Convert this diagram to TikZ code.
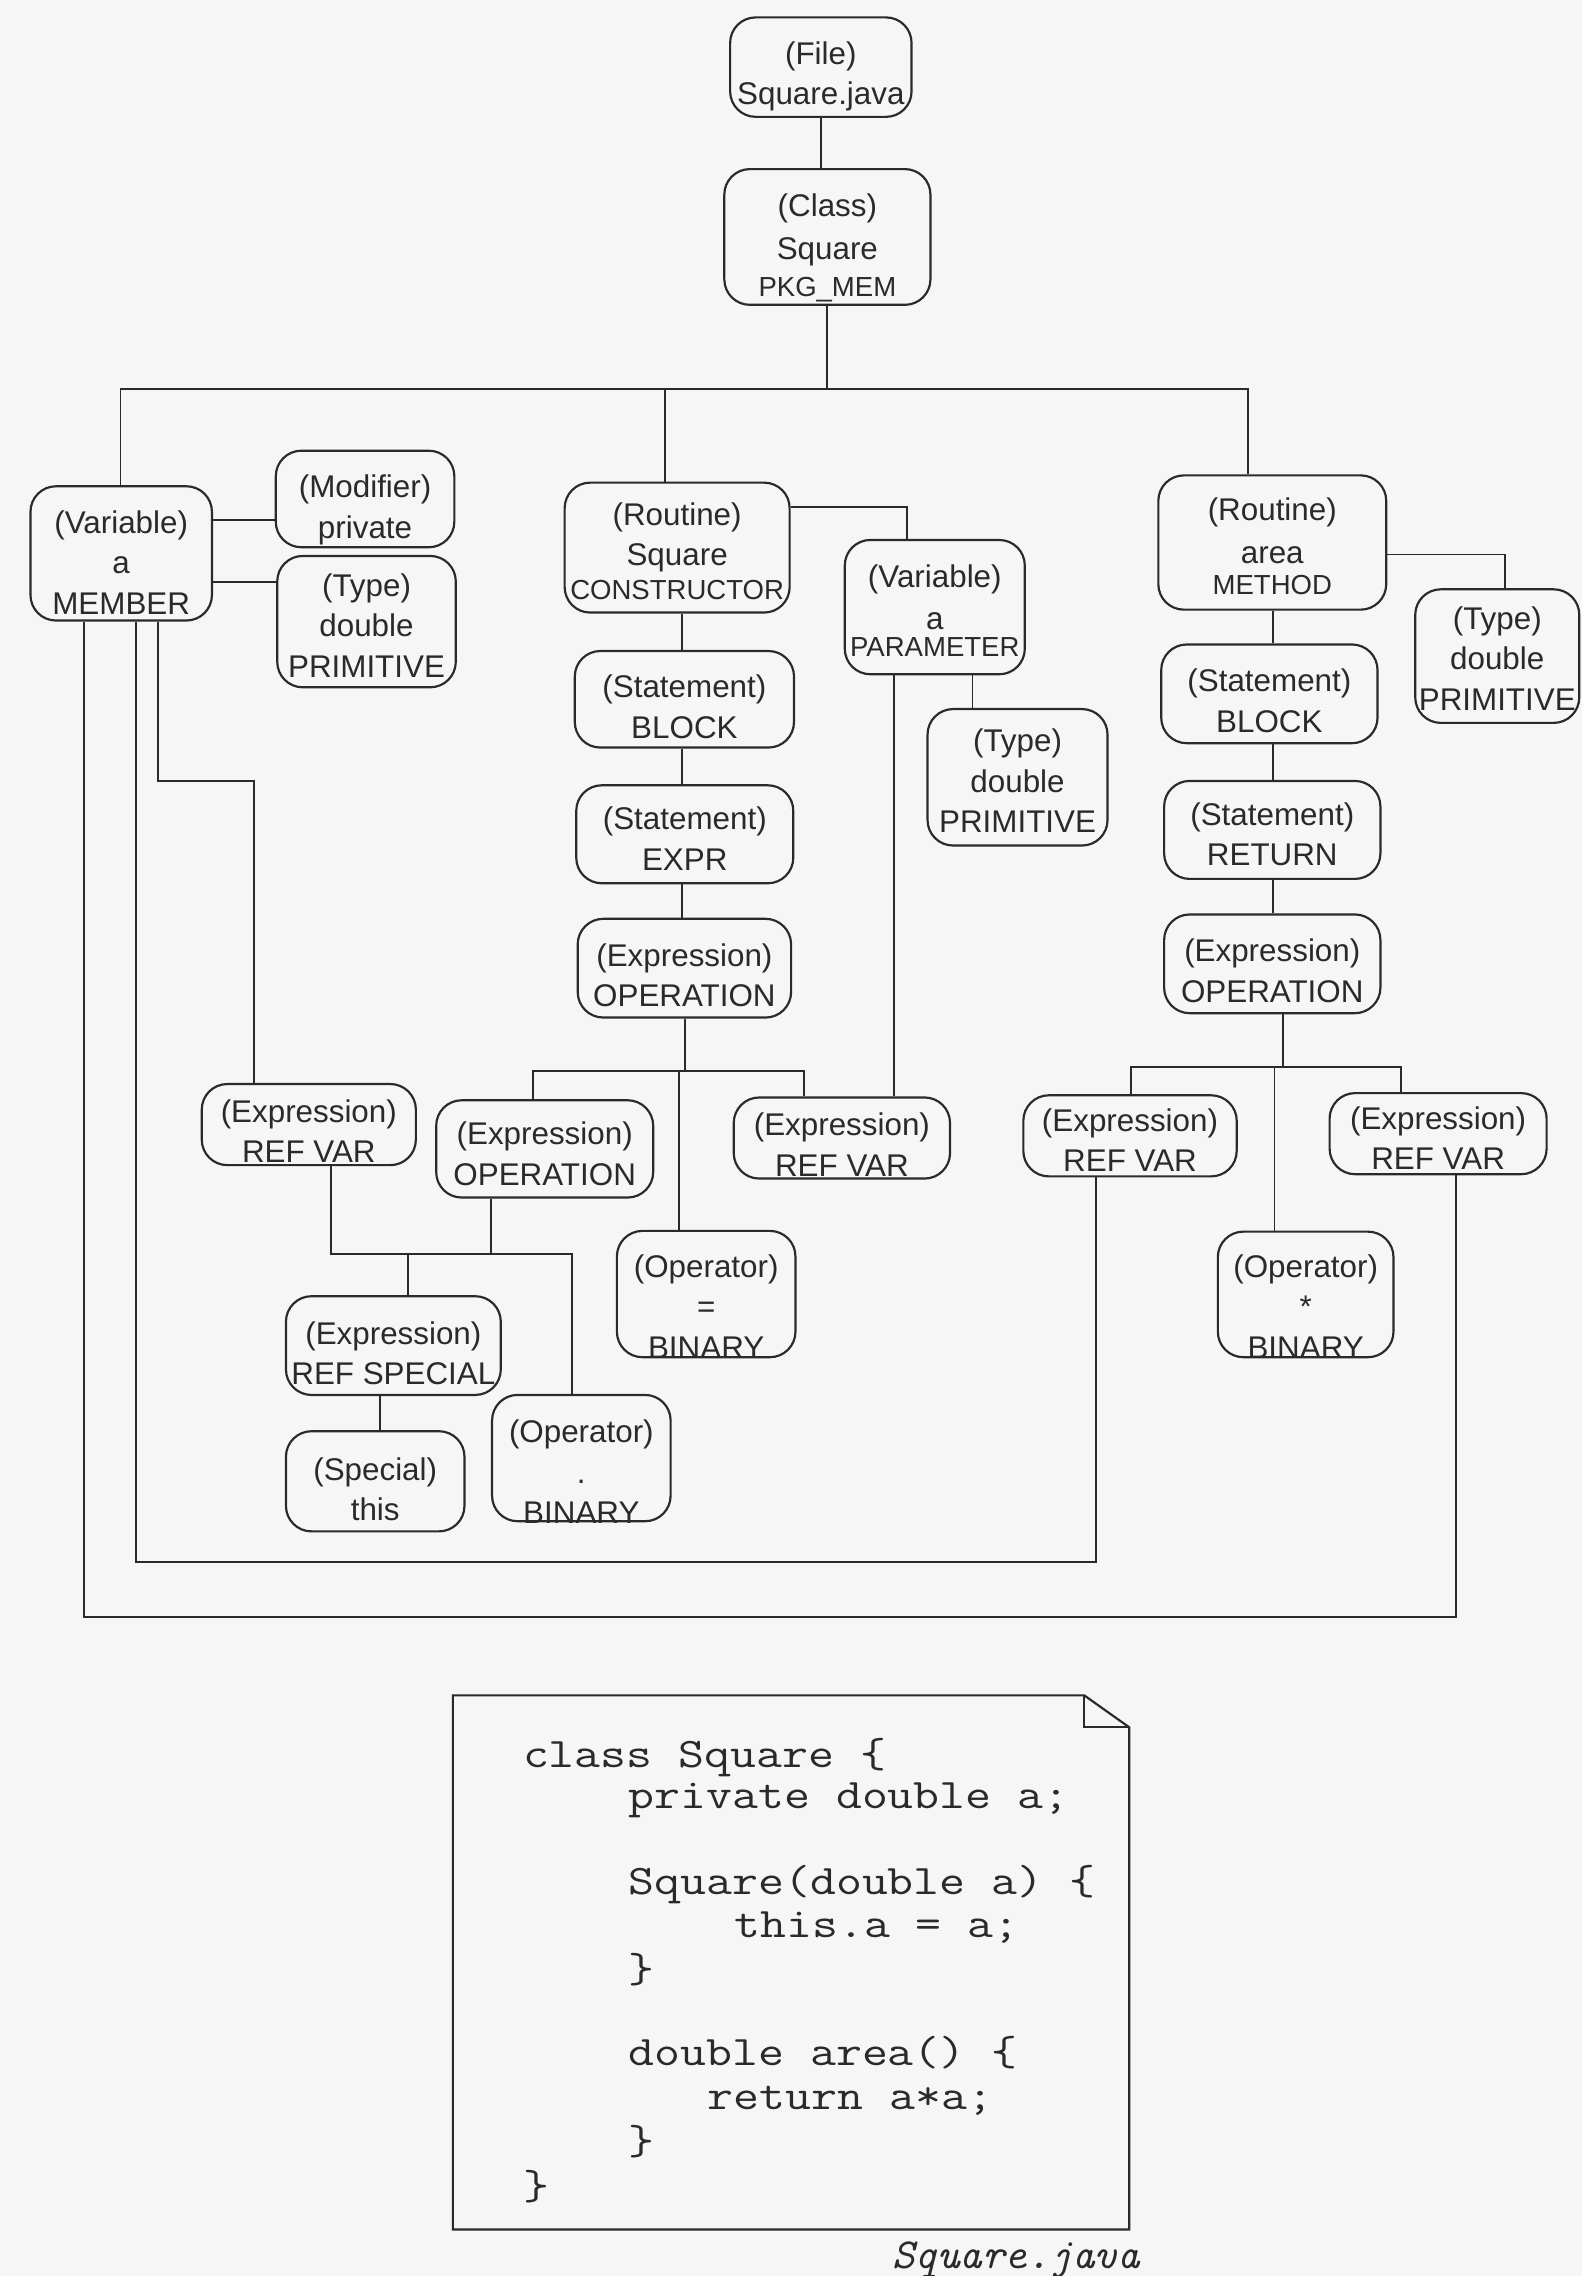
\documentclass[tikz,border=0pt]{standalone}
\usepackage{fontspec}
\setmainfont{Liberation Sans}
\definecolor{ink}{RGB}{42,42,42}
\definecolor{paper}{RGB}{246,246,247}
\newdimen\unitdim \unitdim=0.02cm
% box text: rows of fixed pitch, lowered by #1 drawing units inside the box
\newcommand\nodelines[2]{\raisebox{-#1\unitdim}[\height][\depth]{\begin{tabular}{@{}c@{}}#2\end{tabular}}}
\newcommand\sm{\fontsize{10.8}{15.9}\selectfont}
% typewriter lines, widened to a Courier-like character pitch
\newcommand\src[1]{\scalebox{1.196}[1]{#1}}
\tikzset{
  box/.style={draw=ink, line width=0.85pt, rounded corners=10pt, inner sep=0pt,
    text=ink, font=\fontsize{12.3}{15.9}\selectfont},
  wire/.style={draw=ink, line width=0.75pt},
  code/.style={anchor=base west, inner sep=0pt, text=ink,
    font=\ttfamily\fontsize{16.5}{20}\selectfont},
}
% \bx{name}{x1}{y1}{x2}{y2}{text drop}{rows}
\newcommand\bx[7]{\node[box, minimum width={(#4-#2)*0.02cm}, minimum height={(#5-#3)*0.02cm}]
  (#1) at ({(#2+#4)/2},{(#3+#5)/2}) {\nodelines{#6}{#7}};}
\begin{document}
\begin{tikzpicture}[x=0.02cm,y=-0.02cm]
\fill[paper] (0,0) rectangle (1090,1568);
\useasboundingbox (0,0) rectangle (1090,1568);

% ---------- tree nodes ----------
\bx{file}{503}{12}{628}{80.5}{6.5}{(File)\\Square.java}
\bx{class}{499}{116.5}{641}{210}{7.8}{(Class)\\[0.7pt]Square\\[-1.4pt]{\sm PKG\_MEM}}
\bx{member}{21}{335}{146}{427.5}{8.5}{(Variable)\\a\\MEMBER}
\bx{modifier}{190}{310.5}{313}{377}{7.7}{(Modifier)\\private}
\bx{typeL}{191}{383}{314}{473.5}{4.7}{(Type)\\double\\PRIMITIVE}
\bx{ctor}{389}{332.5}{544}{422}{4.6}{(Routine)\\Square\\[-2.8pt]{\sm CONSTRUCTOR}}
\bx{param}{582}{372}{706}{464.5}{4.7}{(Variable)\\[0.7pt]a\\[-5.3pt]{\sm PARAMETER}}
\bx{typeM}{639}{488.5}{763}{582.5}{4.6}{(Type)\\double\\PRIMITIVE}
\bx{blockC}{396}{448.5}{547}{515}{7.3}{(Statement)\\BLOCK}
\bx{exprC}{397}{541}{546.5}{608.5}{5.2}{(Statement)\\EXPR}
\bx{opC}{398}{633}{545}{701}{7.1}{(Expression)\\OPERATION}
\bx{refL}{139}{747}{286.5}{802.5}{6.9}{(Expression)\\REF VAR}
\bx{opIn}{300.5}{758}{450}{825}{5.6}{(Expression)\\OPERATION}
\bx{refM}{505.5}{756.5}{654.5}{811.5}{6.9}{(Expression)\\REF VAR}
\bx{refSp}{197}{893}{345}{961}{7.4}{(Expression)\\REF SPECIAL}
\bx{special}{197}{986}{320}{1055}{7.6}{(Special)\\this}
\bx{dotop}{339}{961}{462}{1048}{11.7}{(Operator)\\.\\BINARY}
\bx{eqop}{425}{848}{548}{935}{10.6}{(Operator)\\=\\BINARY}
\bx{area}{798}{327.5}{955}{420}{4.6}{(Routine)\\[0.8pt]area\\[-3.7pt]{\sm METHOD}}
\bx{typeR}{975}{406}{1088}{498}{3.8}{(Type)\\double\\PRIMITIVE}
\bx{blockA}{800}{444}{949}{512}{7}{(Statement)\\BLOCK}
\bx{ret}{802}{538}{951}{605.5}{5.3}{(Statement)\\RETURN}
\bx{opA}{802}{630}{951}{698}{6.9}{(Expression)\\OPERATION}
\bx{refA}{705}{755}{852}{810}{5.3}{(Expression)\\REF VAR}
\bx{refR}{916}{753.5}{1065.5}{808.5}{5.3}{(Expression)\\REF VAR}
\bx{starop}{839}{848.5}{960}{935}{10.6}{(Operator)\\{*}\\BINARY}

% ---------- top of the tree ----------
\coordinate (busT) at (0,268);
\coordinate (dM) at (83,268);
\coordinate (dC) at (458,268);
\coordinate (dA) at (860,268);
\draw[wire] (file.south) -- (file.south |- class.north);
\draw[wire] (class.south) -- (class.south |- busT);
\draw[wire] (member.north -| dM) -- (dM) -- (dA) -- (area.north -| dA);
\draw[wire] (dC) -- (ctor.north -| dC);

% ---------- member variable ----------
\coordinate (mMod) at (0,358);
\coordinate (mTyp) at (0,401);
\draw[wire] (member.east |- mMod) -- (modifier.west |- mMod);
\draw[wire] (member.east |- mTyp) -- (typeL.west |- mTyp);
\coordinate (jogA) at (109,538);
\coordinate (jogB) at (175,538);
\draw[wire] (member.south -| jogA) -- (jogA) -- (jogB) -- (refL.north -| jogB);
\coordinate (inL) at (94,1076);
\coordinate (inR) at (755,1076);
\draw[wire] (member.south -| inL) -- (inL) -- (inR) -- (refA.south -| inR);
\coordinate (outL) at (58,1114);
\coordinate (outR) at (1003,1114);
\draw[wire] (member.south -| outL) -- (outL) -- (outR) -- (refR.south -| outR);

% ---------- constructor ----------
\coordinate (cp) at (625,349);
\draw[wire] (ctor.east |- cp) -- (cp) -- (param.north -| cp);
\coordinate (pt) at (670,0);
\coordinate (pr) at (616,0);
\draw[wire] (param.south -| pt) -- (typeM.north -| pt);
\draw[wire] (param.south -| pr) -- (refM.north -| pr);
\coordinate (cx) at (470,0);
\draw[wire] (ctor.south -| cx) -- (blockC.north -| cx);
\draw[wire] (blockC.south -| cx) -- (exprC.north -| cx);
\draw[wire] (exprC.south -| cx) -- (opC.north -| cx);
\coordinate (b1L) at (367,738);
\coordinate (b1R) at (554,738);
\coordinate (b1S) at (472,738);
\coordinate (b1E) at (468,738);
\draw[wire] (opC.south -| b1S) -- (b1S);
\draw[wire] (opIn.north -| b1L) -- (b1L) -- (b1R) -- (refM.north -| b1R);
\draw[wire] (b1E) -- (eqop.north -| b1E);
\coordinate (b2L) at (228,864);
\coordinate (b2R) at (394,864);
\coordinate (b2S) at (338,864);
\coordinate (b2T) at (281,864);
\draw[wire] (opIn.south -| b2S) -- (b2S);
\draw[wire] (refL.south -| b2L) -- (b2L) -- (b2R) -- (dotop.north -| b2R);
\draw[wire] (b2T) -- (refSp.north -| b2T);
\coordinate (sx) at (262,0);
\draw[wire] (refSp.south -| sx) -- (special.north -| sx);

% ---------- method area() ----------
\coordinate (at) at (1037,382);
\draw[wire] (area.east |- at) -- (at) -- (typeR.north -| at);
\coordinate (ax) at (877,0);
\draw[wire] (area.south -| ax) -- (blockA.north -| ax);
\draw[wire] (blockA.south -| ax) -- (ret.north -| ax);
\draw[wire] (ret.south -| ax) -- (opA.north -| ax);
\coordinate (b3L) at (779,735);
\coordinate (b3R) at (965,735);
\coordinate (b3S) at (884,735);
\coordinate (b3M) at (878,735);
\draw[wire] (opA.south -| b3S) -- (b3S);
\draw[wire] (refA.north -| b3L) -- (b3L) -- (b3R) -- (refR.north -| b3R);
\draw[wire] (b3M) -- (starop.north -| b3M);

% ---------- source file sheet ----------
\coordinate (cbNW) at (312,1168);
\coordinate (cbF1) at (747,1168);
\coordinate (cbF2) at (778,1190);
\coordinate (cbF3) at (747,1190);
\coordinate (cbSE) at (778,1536);
\draw[wire, line width=0.85pt] (cbNW) -- (cbF1) -- (cbF2) -- (cbSE) -- (cbNW |- cbSE) -- cycle;
\draw[wire] (cbF1) -- (cbF3) -- (cbF2);

\node[code] (l1) at (360,1218) {\src{class Square \{}};
\node[code] (l2) at (432.8,1246) {\src{private double a;}};
\node[code] (l3) at (432.8,1305) {\src{Square(double a) \{}};
\node[code] (l4) at (505.6,1335) {\src{this.a = a;}};
\node[code] (l5) at (432.8,1366) {\src{\}}};
\node[code] (l6) at (432.8,1423) {\src{double area() \{}};
\node[code] (l7) at (487.4,1453.5) {\src{return a*a;}};
\node[code] (l8) at (432.8,1484) {\src{\}}};
\node[code] (l9) at (360,1515.5) {\src{\}}};
\node[anchor=base, inner sep=0pt, text=ink, font=\ttfamily\itshape\fontsize{16.8}{20}\selectfont]
  (caption) at (700,1563) {Square.java};
\end{tikzpicture}
\end{document}
